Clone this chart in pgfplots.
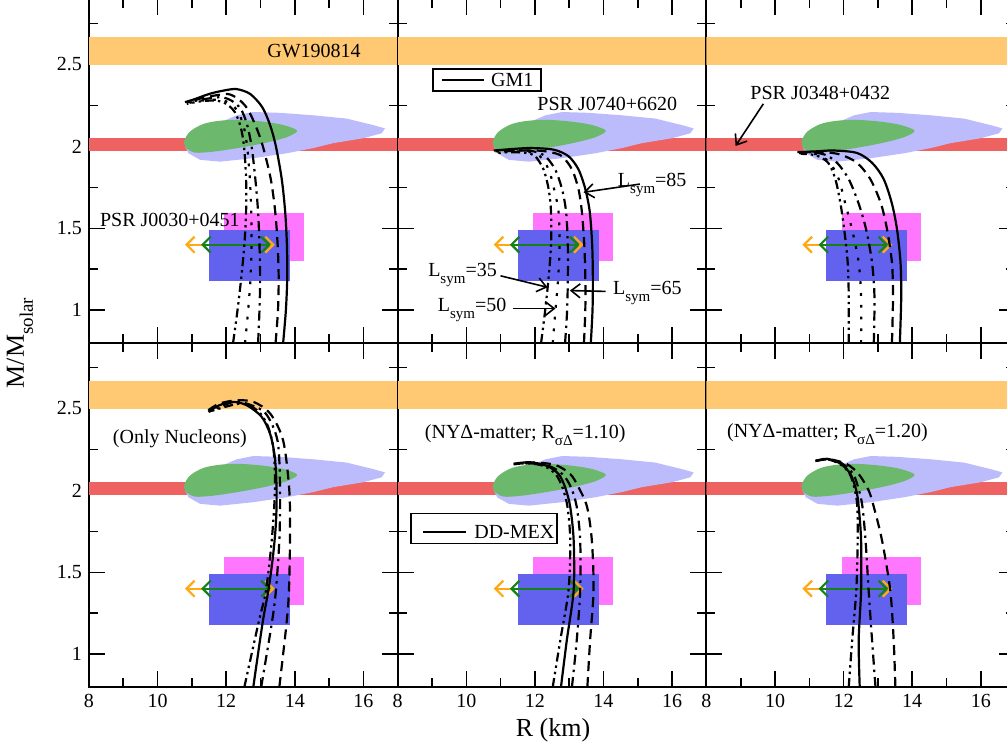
\documentclass[border=0pt]{standalone}
\usepackage{fontspec}
\setmainfont{Liberation Serif}
\usepackage{pgfplots}
\pgfplotsset{compat=1.18}
\usetikzlibrary{arrows.meta}

% constraint colours
\definecolor{gwband}{RGB}{255,200,115}
\definecolor{psrred}{RGB}{238,98,98}
\definecolor{nicerblue}{RGB}{188,188,252}
\definecolor{nicergreen}{RGB}{108,184,108}
\definecolor{jmag}{RGB}{255,118,255}
\definecolor{jblue}{RGB}{98,98,238}
\definecolor{arrorange}{RGB}{255,170,20}
\definecolor{arrgreen}{RGB}{20,130,20}

\newcommand{\sub}[1]{\raisebox{-3.5pt}{\fontsize{7.5}{8}\selectfont #1}}
\newcommand{\bigsub}[1]{\raisebox{-4.5pt}{\fontsize{9.5}{10}\selectfont #1}}

\tikzset{
  crv/.style={black, line width=1.1pt, smooth, line cap=butt},
  sSolid/.style={crv, solid},
  sDash/.style={crv, dash pattern=on 5pt off 3pt},
  sDashDot/.style={crv, dash pattern=on 5pt off 2.5pt on 1.2pt off 2.5pt},
  sDot/.style={crv, dash pattern=on 1.4pt off 4.5pt},
  sDashDotDot/.style={crv, dash pattern=on 4.5pt off 2pt on 1.2pt off 2pt on 1.2pt off 2pt},
  note/.style={-{Straight Barb[length=4.5pt,width=7pt]}, line width=0.8pt, black},
  rangearr/.style={line width=1.1pt, {Straight Barb[length=4pt,width=8pt]}-{Straight Barb[length=4pt,width=8pt]}},
}

\pgfplotsset{
  panel/.style={
    scale only axis, width=154.35pt, height=172pt,
    xmin=8, xmax=17, ymin=0.8, ymax=2.9,
    xtick={8,10,12,14,16}, minor xtick={9,11,13,15},
    ytick={1,1.5,2,2.5}, minor ytick={1.25,1.75,2.25,2.75},
    tick align=inside, major tick length=8pt, minor tick length=4.5pt,
    axis line style={line width=1pt},
    every tick/.append style={black, line width=0.8pt},
    tick label style={font=\fontsize{10}{12}\selectfont},
    /pgf/number format/assume math mode=true,
    xticklabels={}, yticklabels={},
    anchor=north west,
  },
  xlab/.style={xticklabels={8,10,12,14,16}},
  ylab/.style={yticklabels={1,1.5,2,2.5}},
}

% observational constraints shared by all panels
\newcommand{\constraints}{%
  \addplot[fill=gwband, draw=none] coordinates {(8,2.50) (17,2.50) (17,2.67) (8,2.67)};
  \addplot[fill=psrred, draw=none] coordinates {(8,1.97) (17,1.97) (17,2.05) (8,2.05)};
  \addplot[fill=nicerblue, draw=none] coordinates {
    (10.80,2.00) (11.30,2.10) (12.31,2.19) (12.79,2.21) (13.57,2.205) (14.54,2.19)
    (15.51,2.17) (16.29,2.13) (16.63,2.11) (16.53,2.08) (16.00,2.05) (15.12,2.02)
    (14.54,1.99) (13.76,1.958) (12.79,1.928) (11.82,1.907) (11.24,1.918) (10.90,1.958)};
  \addplot[fill=nicergreen, draw=none, smooth] coordinates {
    (10.83,1.989) (10.77,2.03) (10.94,2.09) (11.33,2.137) (11.82,2.157) (12.40,2.162)
    (13.08,2.151) (13.66,2.131) (14.07,2.096) (13.76,2.056) (13.08,2.019)
    (12.31,1.989) (11.62,1.968) (11.09,1.962) (10.83,1.989)};
  \addplot[fill=jmag, draw=none] coordinates {(11.94,1.30) (14.27,1.30) (14.27,1.595) (11.94,1.595)};
  \addplot[fill=jblue, draw=none] coordinates {(11.50,1.18) (13.86,1.18) (13.86,1.49) (11.50,1.49)};
  \addplot[rangearr, arrorange] coordinates {(10.80,1.40) (13.42,1.40)};
  \addplot[rangearr, arrgreen] coordinates {(11.27,1.40) (13.30,1.40)};
}

\begin{document}
\begin{tikzpicture}
\path[use as bounding box] (0,0) rectangle (503.5pt,-373.5pt);
\clip (0,0) rectangle (503.5pt,-373.5pt);

% ---------- GM1, nucleons only
\begin{axis}[panel, ylab, at={(44.5pt,0.5pt)}]
\constraints
\addplot[sSolid] coordinates {(13.66,0.80) (13.74,1.00) (13.78,1.20) (13.77,1.40) (13.72,1.60) (13.62,1.80) (13.45,2.00) (13.28,2.13) (13.05,2.24) (12.70,2.32) (12.30,2.35) (11.90,2.34) (11.50,2.32) (11.10,2.29) (10.80,2.27)};
\addplot[sDash] coordinates {(13.44,0.80) (13.51,1.00) (13.53,1.20) (13.50,1.40) (13.43,1.60) (13.30,1.80) (13.07,2.00) (12.87,2.12) (12.62,2.23) (12.35,2.29) (12.05,2.32) (11.65,2.31) (11.20,2.29) (10.85,2.27)};
\addplot[sDashDot] coordinates {(12.93,0.80) (12.97,1.00) (12.99,1.20) (12.97,1.40) (12.93,1.60) (12.85,1.80) (12.74,2.00) (12.60,2.14) (12.42,2.23) (12.15,2.28) (11.85,2.30) (11.40,2.29) (10.90,2.27)};
\addplot[sDot] coordinates {(12.55,0.80) (12.64,1.00) (12.71,1.20) (12.74,1.40) (12.73,1.60) (12.69,1.80) (12.61,2.00) (12.50,2.13) (12.32,2.22) (12.05,2.27) (11.75,2.285) (11.30,2.28) (10.90,2.265)};
\addplot[sDashDotDot] coordinates {(12.20,0.80) (12.33,1.00) (12.44,1.20) (12.53,1.40) (12.58,1.60) (12.58,1.80) (12.52,2.00) (12.42,2.12) (12.25,2.21) (12.00,2.26) (11.70,2.28) (11.25,2.275) (10.85,2.26)};
\node at (14.56,2.585) {GW190814};
\node at (10.36,1.552) {PSR J0030+0451};
\end{axis}

% ---------- GM1, NY Delta, R = 1.10
\begin{axis}[panel, at={(198.85pt,0.5pt)}]
\constraints
\addplot[sSolid] coordinates {(13.63,0.80) (13.68,1.00) (13.69,1.20) (13.67,1.40) (13.60,1.60) (13.47,1.74) (13.27,1.86) (12.98,1.94) (12.55,1.98) (11.90,1.99) (11.40,1.985) (10.80,1.975)};
\addplot[sDash] coordinates {(13.43,0.80) (13.47,1.00) (13.47,1.20) (13.44,1.40) (13.37,1.60) (13.27,1.74) (13.08,1.86) (12.79,1.94) (12.45,1.965) (12.05,1.975) (11.50,1.975) (10.85,1.97)};
\addplot[sDashDot] coordinates {(12.88,0.80) (12.94,1.00) (12.96,1.20) (12.96,1.40) (12.91,1.60) (12.79,1.74) (12.59,1.86) (12.30,1.94) (11.96,1.97) (11.50,1.975) (10.90,1.97)};
\addplot[sDot] coordinates {(12.52,0.80) (12.60,1.00) (12.68,1.20) (12.72,1.40) (12.69,1.60) (12.56,1.74) (12.40,1.86) (12.15,1.94) (11.85,1.965) (11.40,1.97) (10.90,1.965)};
\addplot[sDashDotDot] coordinates {(12.18,0.80) (12.30,1.00) (12.40,1.20) (12.47,1.40) (12.47,1.60) (12.40,1.74) (12.25,1.86) (12.01,1.94) (11.75,1.96) (11.30,1.965) (10.90,1.96)};
\draw[fill=white, line width=0.8pt] (9.035,2.338) rectangle (12.18,2.473);
\draw[line width=1.1pt] (9.30,2.405) -- (10.52,2.405);
\node at (11.34,2.405) {GM1};
\node at (14.11,2.26) {PSR J0740+6620};
\node at (15.42,1.765) {L\sub{sym}=85};
\draw[note] (15.06,1.77) -- (13.42,1.72);
\node at (9.89,1.217) {L\sub{sym}=35};
\draw[note] (11.00,1.21) -- (12.37,1.14);
\node at (15.28,1.106) {L\sub{sym}=65};
\draw[note] (14.06,1.115) -- (13.02,1.12);
\node at (10.17,1.003) {L\sub{sym}=50};
\draw[note] (11.35,1.01) -- (12.60,1.01);
\end{axis}

% ---------- GM1, NY Delta, R = 1.20
\begin{axis}[panel, at={(353.2pt,0.5pt)}]
\constraints
\addplot[sSolid] coordinates {(13.64,0.80) (13.68,1.08) (13.66,1.29) (13.56,1.49) (13.41,1.65) (13.17,1.80) (12.83,1.90) (12.39,1.96) (11.71,1.975) (11.20,1.97) (10.65,1.965)};
\addplot[sDash] coordinates {(13.41,0.80) (13.44,1.08) (13.41,1.29) (13.27,1.49) (13.09,1.65) (12.78,1.80) (12.39,1.90) (11.91,1.95) (11.40,1.965) (10.70,1.96)};
\addplot[sDashDot] coordinates {(12.88,0.80) (12.90,1.08) (12.83,1.29) (12.66,1.49) (12.44,1.65) (12.15,1.80) (11.81,1.90) (11.45,1.95) (11.00,1.965) (10.70,1.96)};
\addplot[sDot] coordinates {(12.51,0.80) (12.51,1.08) (12.44,1.29) (12.25,1.49) (12.05,1.65) (11.86,1.80) (11.60,1.90) (11.25,1.95) (10.75,1.96)};
\addplot[sDashDotDot] coordinates {(12.15,0.80) (12.15,1.08) (12.12,1.29) (12.02,1.49) (11.91,1.65) (11.76,1.80) (11.55,1.90) (11.20,1.945) (10.75,1.955)};
\node at (11.32,2.326) {PSR J0348+0432};
\draw[note] (9.66,2.26) -- (8.85,2.003);
\end{axis}

% ---------- DD-MEX, nucleons only
\begin{axis}[panel, xlab, ylab, at={(44.5pt,-171.5pt)}]
\constraints
\addplot[sSolid] coordinates {(12.79,0.80) (13.06,1.19) (13.23,1.39) (13.36,1.59) (13.45,1.80) (13.47,2.00) (13.42,2.20) (13.28,2.345) (13.03,2.45) (12.60,2.52) (12.21,2.54) (11.80,2.52) (11.48,2.48)};
\addplot[sDash] coordinates {(13.55,0.80) (13.76,1.19) (13.83,1.39) (13.86,1.70) (13.84,2.00) (13.66,2.305) (13.28,2.47) (12.80,2.54) (12.30,2.55) (11.80,2.53) (11.48,2.49)};
\addplot[sDashDot] coordinates {(13.02,0.80) (13.33,1.19) (13.45,1.39) (13.55,1.70) (13.57,2.00) (13.50,2.30) (13.15,2.47) (12.60,2.53) (12.20,2.54) (11.50,2.48)};
\addplot[sDashDotDot] coordinates {(12.53,0.80) (12.94,1.19) (13.16,1.39) (13.33,1.70) (13.42,2.00) (13.38,2.25) (13.20,2.40) (12.90,2.49) (12.40,2.53) (11.50,2.48)};
\node at (10.65,2.317) {(Only Nucleons)};
\end{axis}

% ---------- DD-MEX, NY Delta, R = 1.10
\begin{axis}[panel, xlab, at={(198.85pt,-171.5pt)}]
\constraints
\addplot[sSolid] coordinates {(12.76,0.80) (12.93,1.085) (13.13,1.39) (13.13,1.695) (13.03,1.90) (12.88,2.02) (12.69,2.10) (12.35,2.15) (11.86,2.172) (11.38,2.163)};
\addplot[sDash] coordinates {(13.53,0.80) (13.61,1.085) (13.71,1.39) (13.66,1.695) (13.52,1.90) (13.27,2.02) (13.03,2.10) (12.60,2.155) (12.00,2.17) (11.40,2.16)};
\addplot[sDashDot] coordinates {(13.08,0.80) (13.22,1.085) (13.32,1.39) (13.32,1.695) (13.22,1.90) (13.05,2.02) (12.80,2.10) (12.40,2.15) (11.86,2.165) (11.40,2.16)};
\addplot[sDashDotDot] coordinates {(12.52,0.80) (12.74,1.085) (12.98,1.39) (13.03,1.695) (12.95,1.90) (12.80,2.02) (12.60,2.10) (12.25,2.15) (11.80,2.165) (11.38,2.16)};
\node at (11.72,2.34) {(NYΔ-matter; R\sub{σΔ}=1.10)};
\draw[fill=white, line width=0.8pt] (8.39,1.677) rectangle (12.65,1.86);
\draw[line width=1.1pt] (8.74,1.744) -- (10.00,1.744);
\node at (11.40,1.744) {DD-MEX};
\end{axis}

% ---------- DD-MEX, NY Delta, R = 1.20
\begin{axis}[panel, xlab, at={(353.2pt,-171.5pt)}]
\constraints
\addplot[sSolid] coordinates {(12.47,0.80) (12.44,1.085) (12.51,1.39) (12.51,1.695) (12.44,1.90) (12.37,2.00) (12.20,2.10) (11.91,2.163) (11.52,2.193) (11.18,2.18)};
\addplot[sDash] coordinates {(13.51,0.80) (13.46,1.085) (13.36,1.39) (13.12,1.695) (12.88,1.90) (12.73,2.00) (12.44,2.10) (12.10,2.16) (11.60,2.19) (11.20,2.18)};
\addplot[sDashDot] coordinates {(12.93,0.80) (12.83,1.085) (12.73,1.39) (12.64,1.695) (12.55,1.90) (12.45,2.00) (12.28,2.10) (11.95,2.165) (11.52,2.19) (11.18,2.18)};
\addplot[sDashDotDot] coordinates {(12.15,0.80) (12.25,1.085) (12.37,1.39) (12.41,1.695) (12.40,1.90) (12.33,2.00) (12.18,2.10) (11.90,2.16) (11.52,2.19) (11.18,2.18)};
\node at (11.53,2.346) {(NYΔ-matter; R\sub{σΔ}=1.20)};
\end{axis}

\node[rotate=90, font=\fontsize{13}{15}\selectfont] at (10pt,-171.5pt) {M/M\bigsub{solar}};
\node[font=\fontsize{13}{15}\selectfont] at (276.5pt,-365pt) {R (km)};
\end{tikzpicture}
\end{document}
